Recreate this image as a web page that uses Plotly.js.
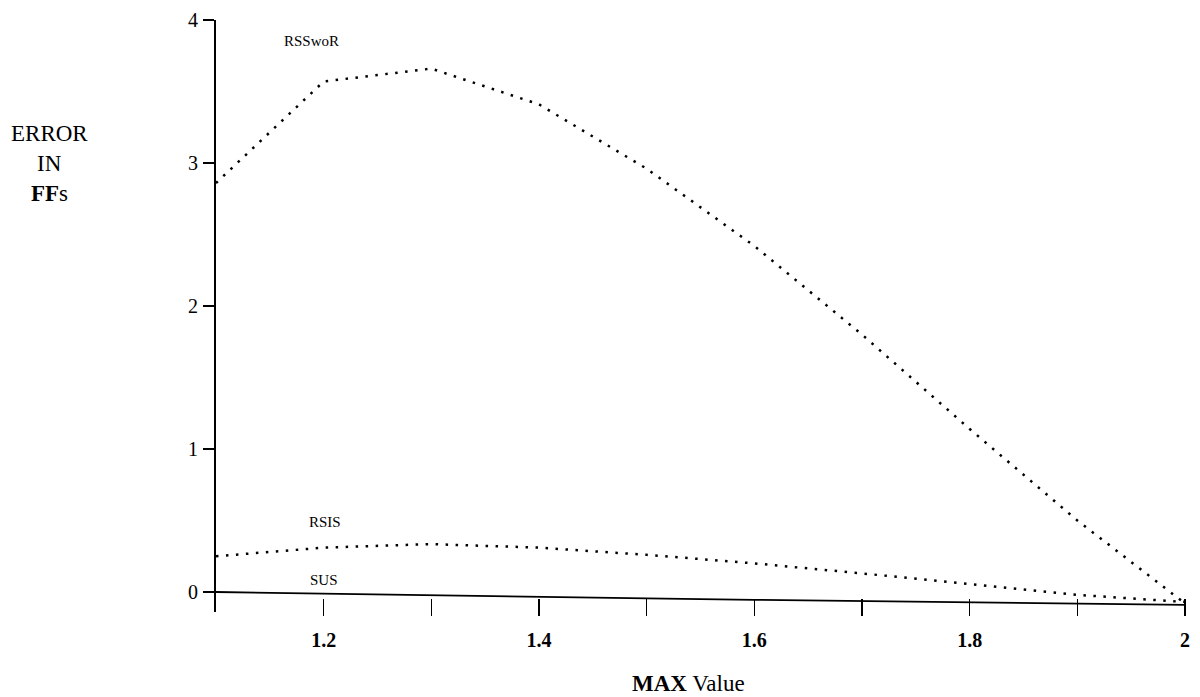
<!DOCTYPE html>
<html>
<head>
<meta charset="utf-8">
<script src="https://cdn.plot.ly/plotly-3.0.1.min.js"></script>
<style>
  html, body { margin: 0; padding: 0; background: #fff; }
  #chart { width: 1200px; height: 697px; }
</style>
</head>
<body>
<div id="chart"></div>
<script>
// Data
const maxValue = [1.1, 1.2, 1.3, 1.4, 1.5, 1.6, 1.7, 1.8, 1.9, 2.0];
const rssworError = [2.86, 3.57, 3.66, 3.41, 2.96, 2.42, 1.80, 1.14, 0.50, -0.08];
const rsisError   = [0.25, 0.31, 0.335, 0.31, 0.26, 0.20, 0.13, 0.056, -0.02, -0.07];
const susError    = [0.0, -0.012, -0.025, -0.035, -0.045, -0.055, -0.065, -0.073, -0.082, -0.09];

const xTickVals = [1.2, 1.3, 1.4, 1.5, 1.6, 1.7, 1.8, 1.9, 2.0];
const xTickText = ['1.2', '', '1.4', '', '1.6', '', '1.8', '', '2'];
const yTickVals = [0, 1, 2, 3, 4];
const yTickText = ['0', '1', '2', '3', '4'];

const serif = 'Liberation Serif, DejaVu Serif, serif';
const dotted = '2.5px,7.5px';

const traces = [
  { x: maxValue, y: rssworError, mode: 'lines', name: 'RSSwoR',
    line: { color: '#000', width: 2.5, dash: dotted } },
  { x: maxValue, y: rsisError, mode: 'lines', name: 'RSIS',
    line: { color: '#000', width: 2.5, dash: dotted } },
  { x: maxValue, y: susError, mode: 'lines', name: 'SUS',
    line: { color: '#000', width: 1.8 } }
];

const yMin = -0.14, yMax = 4;
const xAxisLevel = -0.045;
const plotW = 969, plotH = 592, plotL = 216, plotB = 612;
const px = v => (v - plotL) / plotW;
const py = v => (plotB - v) / plotH;

const layout = {
  width: 1200, height: 697,
  margin: { l: 216, r: 15, t: 20, b: 85 },
  paper_bgcolor: '#fff', plot_bgcolor: '#fff',
  showlegend: false,
  font: { family: serif, color: '#000' },
  xaxis: {
    range: [1.1, 2.0],
    anchor: 'free',
    position: (xAxisLevel - yMin) / (yMax - yMin),
    showline: false, showgrid: false, zeroline: false,
    tickmode: 'array', tickvals: xTickVals, ticktext: xTickText,
    ticks: 'outside', ticklen: 17, tickwidth: 1.6, tickcolor: '#000',
    ticklabelstandoff: 7,
    tickfont: { family: serif, size: 20, color: '#000', weight: 'bold' }
  },
  yaxis: {
    range: [yMin, yMax],
    showline: true, linecolor: '#000', linewidth: 2,
    showgrid: false, zeroline: false,
    tickmode: 'array', tickvals: yTickVals, ticktext: yTickText,
    ticks: 'outside', ticklen: 11, tickwidth: 1.5, tickcolor: '#000',
    ticklabelstandoff: 1,
    tickfont: { family: serif, size: 20, color: '#000' }
  },
  annotations: [
    { xref: 'paper', yref: 'paper', x: px(688), y: py(683), text: '<b>MAX</b> Value',
      showarrow: false, font: { family: serif, size: 23, color: '#000' }, xanchor: 'center', yanchor: 'middle' },
    { xref: 'paper', yref: 'paper', x: px(49), y: py(133), text: 'ERROR',
      showarrow: false, font: { family: serif, size: 23, color: '#000' }, xanchor: 'center', yanchor: 'middle' },
    { xref: 'paper', yref: 'paper', x: px(49), y: py(164), text: 'IN',
      showarrow: false, font: { family: serif, size: 23, color: '#000' }, xanchor: 'center', yanchor: 'middle' },
    { xref: 'paper', yref: 'paper', x: px(49), y: py(193), text: '<b>FF</b>s',
      showarrow: false, font: { family: serif, size: 23, color: '#000' }, xanchor: 'center', yanchor: 'middle' },
    { x: 1.189, y: 3.85, text: 'RSSwoR', showarrow: false,
      font: { family: serif, size: 15, color: '#000' }, xanchor: 'center', yanchor: 'middle' },
    { x: 1.201, y: 0.49, text: 'RSIS', showarrow: false,
      font: { family: serif, size: 15, color: '#000' }, xanchor: 'center', yanchor: 'middle' },
    { x: 1.2, y: 0.084, text: 'SUS', showarrow: false,
      font: { family: serif, size: 15, color: '#000' }, xanchor: 'center', yanchor: 'middle' }
  ]
};

Plotly.newPlot('chart', traces, layout, { staticPlot: true, displayModeBar: false });
</script>
</body>
</html>
